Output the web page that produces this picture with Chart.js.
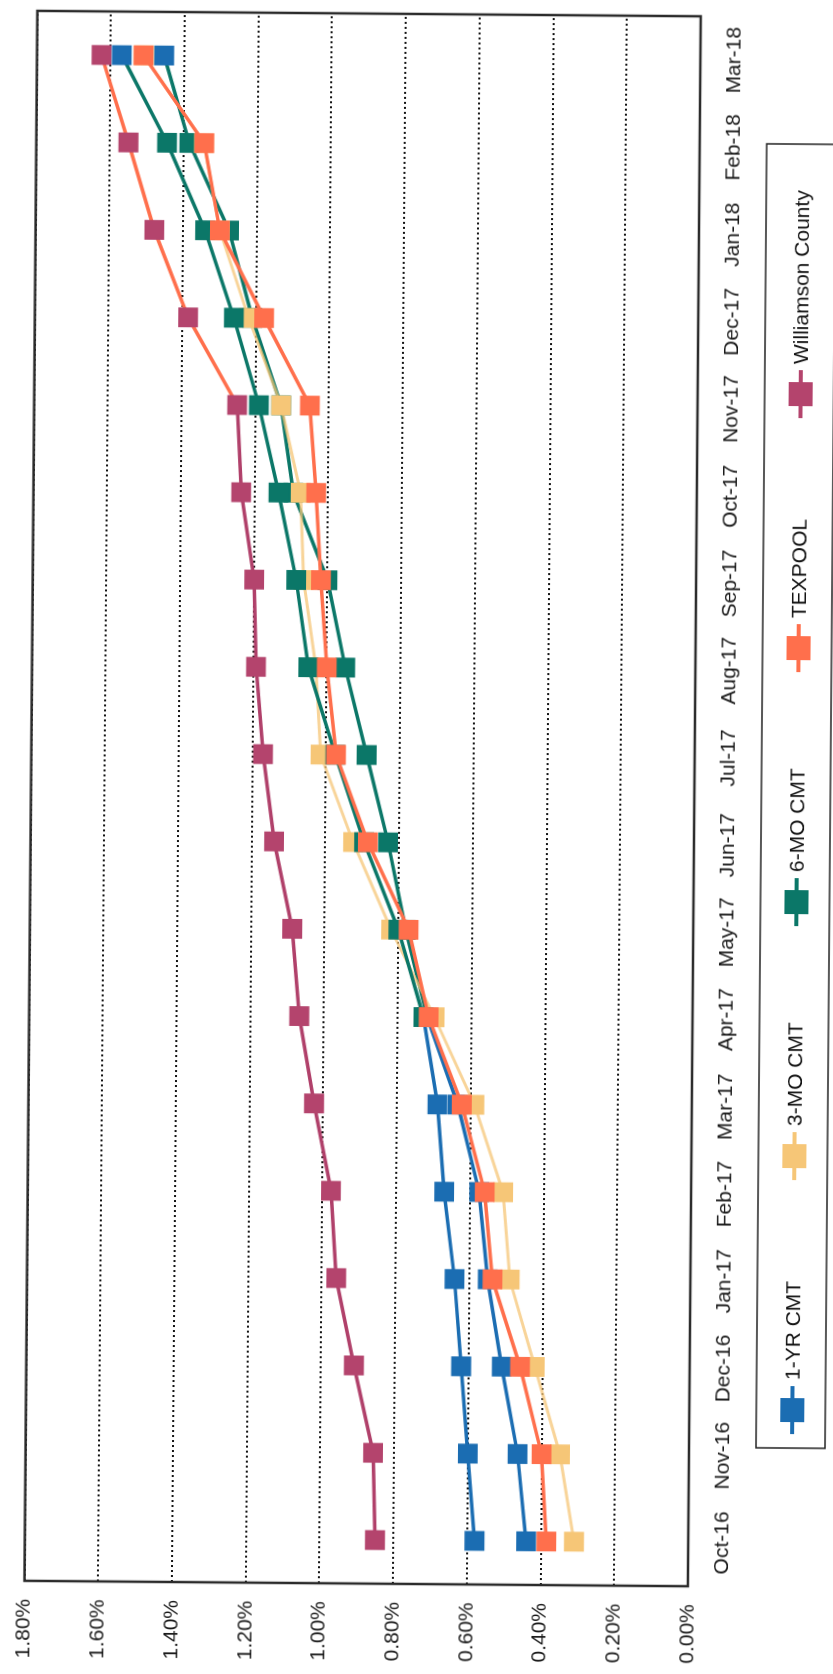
<!DOCTYPE html>
<html>
<head>
<meta charset="utf-8">
<script src="https://cdn.jsdelivr.net/npm/chart.js@4.4.1/dist/chart.umd.min.js"></script>
<style>
  html, body { margin: 0; padding: 0; background: #fff; overflow: hidden; }
  body { width: 833px; height: 1674px; position: relative; }
  #page {
    position: absolute; left: 0; top: 0; width: 833px; height: 1674px;
    transform-origin: 416.5px 837px; transform: rotate(0.47deg);
  }
  #turn {
    position: absolute; left: 0; top: 0; width: 1674px; height: 833px;
    transform-origin: 0 0; transform: translate(0, 1674px) rotate(-90deg);
  }
</style>
</head>
<body>
<div id="page">
  <div id="turn">
    <canvas id="rateChart" width="1674" height="833"></canvas>
  </div>
</div>
<script>
// ## RATE COMPARISON CHART ##

const months = [
  "Oct-16", "Nov-16", "Dec-16", "Jan-17", "Feb-17", "Mar-17",
  "Apr-17", "May-17", "Jun-17", "Jul-17", "Aug-17", "Sep-17",
  "Oct-17", "Nov-17", "Dec-17", "Jan-18", "Feb-18", "Mar-18",
];

// values in percent
const oneYrCmt = [0.58, 0.60, 0.62, 0.64, 0.67, 0.69, 0.73, 0.80, 0.895, 0.975, 1.05, 1.085, 1.135, 1.19, 1.26, 1.34, 1.445, 1.57];
const threeMoCmt = [0.31, 0.35, 0.42, 0.49, 0.51, 0.59, 0.70, 0.82, 0.925, 1.015, 1.03, 1.065, 1.075, 1.13, 1.22, 1.30, 1.345, 1.51];
const sixMoCmt = [0.44, 0.465, 0.51, 0.55, 0.575, 0.635, 0.72, 0.78, 0.83, 0.89, 0.95, 1.00, 1.095, 1.13, 1.21, 1.275, 1.385, 1.455];
const texpool = [0.385, 0.40, 0.46, 0.537, 0.56, 0.624, 0.716, 0.772, 0.885, 0.973, 1.00, 1.018, 1.033, 1.052, 1.178, 1.30, 1.344, 1.511];
const williamson = [0.85, 0.857, 0.911, 0.961, 0.977, 1.025, 1.067, 1.088, 1.139, 1.171, 1.192, 1.199, 1.236, 1.249, 1.384, 1.478, 1.55, 1.625];

const seriesNames = ["1-YR CMT", "3-MO CMT", "6-MO CMT", "TEXPOOL", "Williamson County"];
const seriesColors = ["#1b6db2", "#f6c677", "#0b7768", "#ff6f4c", "#b4446d"];
const seriesData = [oneYrCmt, threeMoCmt, sixMoCmt, texpool, williamson];
// which line sits on top (lower = drawn later)
const seriesOrder = [2, 3, 4, 0, 1];

const BLUE = "#1b6db2";
const TEAL = "#0b7768";
const ORANGE = "#ff6f4c";

// the printed copy shifts colours in bands: both CMT lines look blue at the
// ends and teal through the middle, and the county line turns orange up top
const cmtBand = months.map((m, i) => (i <= 5 || i === 17 ? BLUE : TEAL));
const pointColors = [cmtBand, seriesColors[1], cmtBand, seriesColors[3], seriesColors[4]];
const segmentColor = [
  (c) => cmtBand[c.p0DataIndex],
  () => "rgba(246, 198, 119, 0.75)",
  (c) => cmtBand[c.p0DataIndex],
  () => ORANGE,
  (c) => (c.p0DataIndex >= 13 ? ORANGE : "#b0406a"),
];

const FONT = '"Liberation Sans", Arial, Helvetica, sans-serif';

// frame around the plot area
const plotFrame = {
  id: "plotFrame",
  afterDatasetsDraw(chart) {
    const { ctx, chartArea: a } = chart;
    ctx.save();
    ctx.strokeStyle = "#2b2b2b";
    ctx.lineWidth = 2.5;
    ctx.strokeRect(a.left, a.top, a.right - a.left, a.bottom - a.top);
    ctx.restore();
  },
};

// boxed legend with evenly spaced entries
const boxLegend = {
  id: "boxLegend",
  afterDraw(chart) {
    const ctx = chart.ctx;
    const v = 797;
    ctx.save();
    ctx.strokeStyle = "#222";
    ctx.lineWidth = 1.5;
    ctx.strokeRect(229, 761, 1304, 69);
    ctx.font = "21px " + FONT;
    ctx.textBaseline = "middle";
    chart.data.datasets.forEach((ds, i) => {
      const u = 267 + 254 * i;
      ctx.strokeStyle = seriesColors[i];
      ctx.lineWidth = 4;
      ctx.beginPath();
      ctx.moveTo(u - 24, v);
      ctx.lineTo(u + 24, v);
      ctx.stroke();
      ctx.fillStyle = seriesColors[i];
      ctx.fillRect(u - 12, v - 12, 24, 24);
      ctx.fillStyle = "#111";
      ctx.fillText(ds.label, u + 30, v + 1);
    });
    ctx.restore();
  },
};

const datasets = seriesNames.map((name, i) => ({
  label: name,
  data: seriesData[i],
  borderColor: seriesColors[i],
  backgroundColor: seriesColors[i],
  pointBackgroundColor: pointColors[i],
  pointBorderColor: pointColors[i],
  pointBorderWidth: 0,
  borderWidth: i === 1 ? 3 : 3.5,
  segment: { borderColor: segmentColor[i] },
  pointStyle: "rect",
  pointRadius: 14,
  pointHoverRadius: 14,
  tension: 0,
  order: seriesOrder[i],
}));

const ctx = document.getElementById("rateChart").getContext("2d");

new Chart(ctx, {
  type: "line",
  data: {
    labels: months,
    datasets: datasets,
  },
  options: {
    responsive: false,
    animation: false,
    events: [],
    layout: {
      padding: { top: 29, right: 2, bottom: 0, left: 0 },
    },
    plugins: {
      legend: { display: false },
      tooltip: { enabled: false },
    },
    scales: {
      x: {
        type: "category",
        offset: true,
        grid: { display: false, drawTicks: false },
        border: { display: false },
        ticks: {
          autoSkip: false,
          maxRotation: 0,
          minRotation: 0,
          padding: 22,
          color: "#1a1a1a",
          font: { family: FONT, size: 21 },
        },
        afterFit(scale) {
          scale.height = 139;
        },
      },
      y: {
        min: 0,
        max: 1.8,
        grid: {
          color: "#111",
          lineWidth: 2,
          drawTicks: false,
        },
        border: { display: false, dash: [2, 3] },
        ticks: {
          stepSize: 0.2,
          padding: 18,
          color: "#1a1a1a",
          font: { family: FONT, size: 21 },
          callback: (value) => value.toFixed(2) + "%",
        },
        afterFit(scale) {
          scale.width = 90;
        },
      },
    },
  },
  plugins: [plotFrame, boxLegend],
});
</script>
</body>
</html>
